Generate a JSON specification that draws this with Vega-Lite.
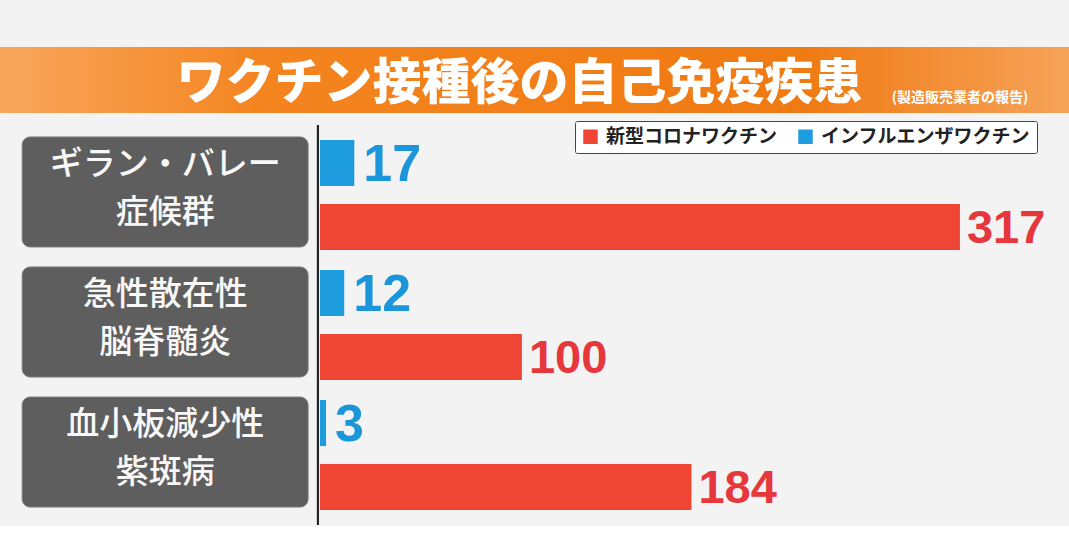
{
  "$schema": "https://vega.github.io/schema/vega-lite/v6.json",
  "background": "#f3f3f3",
  "padding": {"left": 0, "right": 0, "top": 47, "bottom": 0},
  "spacing": 7,
  "config": {"view": {"stroke": null}},
  "resolve": {"scale": {"x": "independent", "y": "independent", "color": "independent"}},
  "vconcat": [
    {
      "width": 1069,
      "height": 66,
      "view": {"stroke": null, "fill": {"gradient": "linear", "x1": 0, "x2": 1, "y1": 0, "y2": 0, "stops": [{"offset": 0, "color": "#f8a65c"}, {"offset": 0.25, "color": "#f4841f"}, {"offset": 0.75, "color": "#f07a12"}, {"offset": 1, "color": "#f6a35a"}]}},
      "data": {"values": [
        {"t": "ワクチン接種後の自己免疫疾患", "k": "main"},
        {"t": "(製造販売業者の報告)", "k": "note"}
      ]},
      "layer": [
        {
          "transform": [{"filter": "datum.k == 'main'"}],
          "mark": {"type": "text", "font": "Noto Sans CJK JP", "fontWeight": 900, "fontSize": 49, "color": "white", "baseline": "middle", "align": "center", "dy": 4},
          "encoding": {
            "text": {"field": "t"},
            "x": {"datum": 48.6, "type": "quantitative", "scale": {"domain": [0, 100]}, "axis": null}
          }
        },
        {
          "transform": [{"filter": "datum.k == 'note'"}],
          "mark": {"type": "text", "font": "Noto Sans CJK JP", "fontWeight": 700, "fontSize": 14, "color": "white", "baseline": "middle", "align": "center", "dy": 18},
          "encoding": {
            "text": {"field": "t"},
            "x": {"datum": 89.8, "type": "quantitative"}
          }
        }
      ]
    },
    {
      "width": 1069,
      "height": 400,
      "data": {"values": [
        {"cat": "ギラン・バレー症候群", "series": "インフルエンザワクチン", "value": 17},
        {"cat": "ギラン・バレー症候群", "series": "新型コロナワクチン", "value": 317},
        {"cat": "急性散在性脳脊髄炎", "series": "インフルエンザワクチン", "value": 12},
        {"cat": "急性散在性脳脊髄炎", "series": "新型コロナワクチン", "value": 100},
        {"cat": "血小板減少性紫斑病", "series": "インフルエンザワクチン", "value": 3},
        {"cat": "血小板減少性紫斑病", "series": "新型コロナワクチン", "value": 184}
      ]},
      "layer": [
        {
          "data": {"values": [
            {"cat": "ギラン・バレー症候群", "label": ["ギラン・バレー", "症候群"]},
            {"cat": "急性散在性脳脊髄炎", "label": ["急性散在性", "脳脊髄炎"]},
            {"cat": "血小板減少性紫斑病", "label": ["血小板減少性", "紫斑病"]}
          ]},
          "mark": {"type": "bar", "color": "#5e5e5e", "cornerRadius": 8, "stroke": "#7a7a7a", "strokeWidth": 1, "yOffset": -3},
          "encoding": {
            "y": {"field": "cat", "type": "nominal", "sort": ["ギラン・バレー症候群", "急性散在性脳脊髄炎", "血小板減少性紫斑病"], "scale": {"paddingInner": 0.154, "paddingOuter": 0.115}, "axis": null},
            "x": {"datum": -147.5, "type": "quantitative", "scale": {"domain": [-158.5, 371], "nice": false, "zero": false}, "axis": null},
            "x2": {"datum": -5.9}
          }
        },
        {
          "data": {"values": [
            {"cat": "ギラン・バレー症候群", "label": ["ギラン・バレー", "症候群"]},
            {"cat": "急性散在性脳脊髄炎", "label": ["急性散在性", "脳脊髄炎"]},
            {"cat": "血小板減少性紫斑病", "label": ["血小板減少性", "紫斑病"]}
          ]},
          "mark": {"type": "text", "font": "Noto Sans CJK JP", "fontWeight": 500, "fontSize": 33, "lineHeight": 48, "color": "#f8f8f8", "align": "center", "baseline": "middle", "dy": -30},
          "encoding": {
            "y": {"field": "cat", "type": "nominal", "sort": ["ギラン・バレー症候群", "急性散在性脳脊髄炎", "血小板減少性紫斑病"]},
            "x": {"datum": -76.7, "type": "quantitative"},
            "text": {"field": "label"}
          }
        },
        {
          "mark": {"type": "rule", "color": "#222222", "strokeWidth": 2},
          "encoding": {"x": {"datum": -1, "type": "quantitative"}}
        },
        {
          "mark": {"type": "bar"},
          "encoding": {
            "y": {"field": "cat", "type": "nominal", "sort": ["ギラン・バレー症候群", "急性散在性脳脊髄炎", "血小板減少性紫斑病"]},
            "yOffset": {"field": "series", "type": "nominal", "sort": ["インフルエンザワクチン", "新型コロナワクチン"], "scale": {"paddingInner": 0.28, "paddingOuter": 0}},
            "x": {"field": "value", "type": "quantitative"},
            "color": {
              "field": "series", "type": "nominal",
              "scale": {"domain": ["新型コロナワクチン", "インフルエンザワクチン"], "range": ["#ee4535", "#1d9ddd"]},
              "legend": {
                "title": null, "orient": "none", "legendX": 575, "legendY": -4, "direction": "horizontal",
                "symbolType": "square", "symbolSize": 210, "symbolStrokeWidth": 0,
                "labelFont": "Noto Sans CJK JP", "labelFontWeight": 700, "labelFontSize": 19, "labelColor": "#222222",
                "labelOffset": 6, "columnPadding": 18, "labelLimit": 300,
                "strokeColor": "#444444", "fillColor": "#ffffff", "padding": 6, "cornerRadius": 2
              }
            }
          }
        },
        {
          "transform": [{"filter": "datum.series == 'インフルエンザワクチン'"}],
          "mark": {"type": "text", "font": "Liberation Sans", "fontWeight": "bold", "fontSize": 52, "color": "#1b96da", "align": "left", "baseline": "middle", "dx": 9, "dy": 2},
          "encoding": {
            "y": {"field": "cat", "type": "nominal", "sort": ["ギラン・バレー症候群", "急性散在性脳脊髄炎", "血小板減少性紫斑病"]},
            "yOffset": {"field": "series", "type": "nominal", "sort": ["インフルエンザワクチン", "新型コロナワクチン"]},
            "x": {"field": "value", "type": "quantitative"},
            "text": {"field": "value"}
          }
        },
        {
          "transform": [{"filter": "datum.series == '新型コロナワクチン'"}],
          "mark": {"type": "text", "font": "Liberation Sans", "fontWeight": "bold", "fontSize": 47, "color": "#e5373c", "align": "left", "baseline": "middle", "dx": 7, "dy": 2},
          "encoding": {
            "y": {"field": "cat", "type": "nominal", "sort": ["ギラン・バレー症候群", "急性散在性脳脊髄炎", "血小板減少性紫斑病"]},
            "yOffset": {"field": "series", "type": "nominal", "sort": ["インフルエンザワクチン", "新型コロナワクチン"]},
            "x": {"field": "value", "type": "quantitative"},
            "text": {"field": "value"}
          }
        }
      ]
    }
  ]
}
